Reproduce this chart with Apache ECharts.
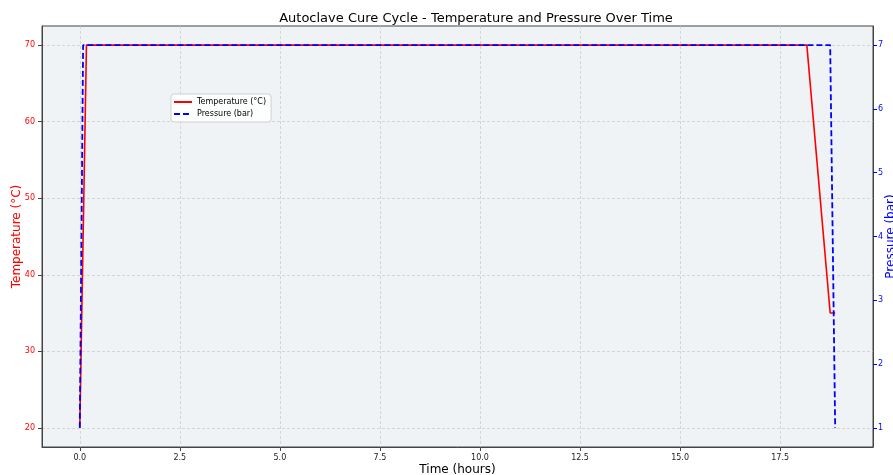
<!DOCTYPE html>
<html><head><meta charset="utf-8">
<script src="https://cdn.jsdelivr.net/npm/echarts@6/dist/echarts.min.js"></script>
<style>html,body{margin:0;padding:0;background:#fff}#c{width:893px;height:475px}</style>
</head><body><div id="c"></div>
<script>
const tempTime = [0, 0.1667, 18.1667, 18.75, 18.875];
const tempValues = [20, 70, 70, 35, 35];
const presTime = [0, 0.0833, 18.75, 18.875];
const presValues = [1, 7, 7, 1];
const xTicks = [0, 2.5, 5, 7.5, 10, 12.5, 15, 17.5];
const tempTicks = [20, 30, 40, 50, 60, 70];
const presTicks = [1, 2, 3, 4, 5, 6, 7];

const font = 'DejaVu Sans';
const chart = echarts.init(document.getElementById('c'), null, {renderer: 'canvas'});
const gridLine = {show: true, lineStyle: {color: '#c8c8c8', width: 0.7, type: [3, 2]}};
chart.setOption({
  animation: false,
  textStyle: {fontFamily: font},
  title: {
    text: 'Autoclave Cure Cycle - Temperature and Pressure Over Time',
    left: 471, top: 7, textAlign: 'center',
    textStyle: {fontFamily: font, fontSize: 13, fontWeight: 'normal', color: '#000'}
  },
  legend: {
    orient: 'vertical', left: 171, top: 94,
    backgroundColor: 'rgba(255,255,255,0.85)', borderColor: '#d0d0d0', borderWidth: 1, borderRadius: 3,
    padding: [4, 5, 4, 2], itemGap: 4, itemWidth: 18, itemHeight: 8,
    itemStyle: {opacity: 0},
    textStyle: {fontFamily: font, fontSize: 8, color: '#000'},
    data: ['Temperature (°C)', 'Pressure (bar)']
  },
  grid: {left: 42, right: 20, top: 26, bottom: 28, outerBoundsMode: 'none', containLabel: false,
    show: true, backgroundColor: '#eff3f5', borderColor: '#444', borderWidth: 1},
  xAxis: {
    type: 'value', min: -0.944, max: 19.82,
    name: 'Time (hours)', nameLocation: 'middle', nameGap: 17, nameMoveOverlap: false,
    nameTextStyle: {fontFamily: font, fontSize: 12, color: '#000'},
    axisLine: {show: true, onZero: false, lineStyle: {color: '#444'}},
    axisTick: {show: true, length: 4, customValues: xTicks, lineStyle: {color: '#444'}},
    axisLabel: {customValues: xTicks, formatter: v => v.toFixed(1), fontSize: 8, color: '#222', margin: 7},
    splitLine: gridLine
  },
  yAxis: [{
    type: 'value', min: 17.5, max: 72.5, position: 'left',
    name: 'Temperature (°C)', nameLocation: 'middle', nameGap: 19, nameMoveOverlap: false,
    nameTextStyle: {fontFamily: font, fontSize: 12, color: 'red'},
    axisLine: {show: true, onZero: false, lineStyle: {color: '#444'}},
    axisTick: {show: true, length: 4, customValues: tempTicks, lineStyle: {color: '#444'}},
    axisLabel: {customValues: tempTicks, fontSize: 8, color: 'red', margin: 7},
    splitLine: gridLine
  }, {
    type: 'value', min: 0.7, max: 7.3, position: 'right',
    name: 'Pressure (bar)', nameLocation: 'middle', nameGap: 12, nameRotate: 90, nameMoveOverlap: false,
    nameTextStyle: {fontFamily: font, fontSize: 12, color: 'blue'},
    axisLine: {show: true, onZero: false, lineStyle: {color: '#444'}},
    axisTick: {show: true, length: 4, customValues: presTicks, lineStyle: {color: 'blue'}},
    axisLabel: {customValues: presTicks, fontSize: 8, color: 'blue', margin: 5},
    splitLine: {show: false}
  }],
  series: [{
    name: 'Temperature (°C)', type: 'line', yAxisIndex: 0, showSymbol: false, symbol: 'none',
    data: tempTime.map((t, i) => [t, tempValues[i]]),
    lineStyle: {color: 'red', width: 1.6}, itemStyle: {color: 'red'}, z: 2
  }, {
    name: 'Pressure (bar)', type: 'line', yAxisIndex: 1, showSymbol: false, symbol: 'none',
    data: presTime.map((t, i) => [t, presValues[i]]),
    lineStyle: {color: 'blue', width: 1.8, type: [6, 3]}, itemStyle: {color: 'blue'}, z: 3
  }]
});
</script></body></html>
